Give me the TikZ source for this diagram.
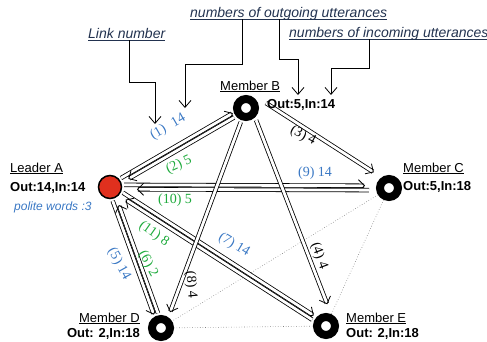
\documentclass[tikz,border=0pt]{standalone}
\usepackage{fontspec}
\setmainfont{Liberation Serif}
\setsansfont{Liberation Sans}
\usetikzlibrary{arrows.meta,calc}

\definecolor{leaderred}{HTML}{E0301E}
\definecolor{linkblue}{HTML}{3A78C4}
\definecolor{linkgreen}{HTML}{1EAA3C}
\definecolor{notenavy}{HTML}{22324F}

\tikzset{
  member/.style={circle, draw=black, line width=8pt, fill=white, minimum size=18pt, inner sep=0pt},
  leader/.style={circle, draw=black, line width=1.5pt, fill=leaderred, minimum size=23pt, inner sep=0pt},
  mname/.style={font=\sffamily\fontsize{13}{15}\selectfont, inner sep=0pt},
  mtally/.style={font=\sffamily\bfseries\fontsize{13}{15}\selectfont, inner sep=0pt},
  note/.style={font=\sffamily\itshape\fontsize{14}{16}\selectfont, text=notenavy, inner sep=0pt},
  callout/.style={line width=0.8pt, -{Straight Barb[length=7pt,width=12pt]}},
  wire/.style={line width=0.8pt, double=white, double distance=2.8pt},
  head/.style={line width=0.8pt, -{Straight Barb[length=6pt,width=12pt]}},
  num/.style={font=\fontsize{14}{16}\selectfont, inner sep=0pt},
  weak/.style={gray, dotted, line width=0.6pt},
}

\begin{document}
\begin{tikzpicture}[x=1pt,y=-1pt]
  \useasboundingbox (0,0) rectangle (487,341);

  % members
  \node[leader] (A) at (110,187) {};
  \node[member] (B) at (246,108) {};
  \node[member] (C) at (389,188) {};
  \node[member] (D) at (161,328) {};
  \node[member] (E) at (326,326) {};

  % links without utterances
  \draw[weak] (C) -- (D);
  \draw[weak] (C) -- (E);
  \draw[weak] (D) -- (E);

  % utterance links: from/to/offset at from/offset at to/gap at from/gap at to
  \foreach \src/\dst/\oa/\ob/\ga/\gb in {
      A/B/2.2/2.2/14/14, B/A/2.2/2.2/15/20,
      A/C/2.2/2.2/14/24, C/A/2.2/2.2/20/27,
      A/D/-2.2/-2.2/14/15, D/A/-2.2/-2.2/15/20,
      A/E/2.2/2.2/14/16, E/A/2.2/2.2/15/20,
      B/C/15/5/15/21, B/D/0/3/15/18, B/E/5/9/15/20} {
    \coordinate (p) at ($(\src)!\oa pt!90:(\dst)$);
    \coordinate (q) at ($(\dst)!\ob pt!-90:(\src)$);
    \draw[wire] ($(p)!\ga pt!(q)$) -- ($(q)!\gb pt+1pt!(p)$);
    \draw[head] ($(q)!\gb pt+1pt!(p)$) -- ($(q)!\gb pt!(p)$);
  }

  % link labels
  \node[num, text=linkblue, rotate=30] at (168,127) {(1)\hspace{8pt}14};
  \node[num, text=linkgreen, rotate=25] at (179,165) {(2) 5};
  \node[num, rotate=-28] at (303,136) {(3) 4};
  \node[num, rotate=-70] at (319,256) {(4) 4};
  \node[num, text=linkblue, rotate=-61] at (119,264) {(5) 14};
  \node[num, text=linkgreen, rotate=-61] at (148,264) {(6) 2};
  \node[num, text=linkblue, rotate=-31] at (234,245) {(7) 14};
  \node[num, rotate=-85] at (191,285) {(8) 4};
  \node[num, text=linkblue] at (315,173) {(9) 14};
  \node[num, text=linkgreen] at (175,200) {(10) 5};
  \node[num, text=linkgreen, rotate=-35] at (154,234) {(11) 8};

  % member names and counts
  \node[mname, anchor=base west] at (10,172) {\underline{Leader A}};
  \node[mtally, anchor=base west] at (10,191) {Out:14,In:14};
  \node[mname, anchor=base west, font=\sffamily\itshape\fontsize{12}{14}\selectfont, text=linkblue] at (14,210) {polite words :3};
  \node[mname, anchor=base west] at (220,90) {\underline{Member B}};
  \node[mtally, anchor=base west] at (267,108) {Out:5,In:14};
  \node[mname, anchor=base west] at (403,172) {\underline{Member C}};
  \node[mtally, anchor=base west] at (403,190) {Out:5,In:18};
  \node[mname, anchor=base east] at (140,322) {\underline{Member D}};
  \node[mtally, anchor=base east] at (140,337) {Out: 2,In:18};
  \node[mname, anchor=base west] at (346,322) {\underline{Member E}};
  \node[mtally, anchor=base west] at (346,337) {Out: 2,In:18};

  % explanations
  \node[note, anchor=base west] (lnk) at (88,38) {Link number};
  \node[note, anchor=base west] (out) at (190,17) {numbers of outgoing utterances};
  \node[note, anchor=base west] (inc) at (289,37) {numbers of incoming utterances};
  \foreach \n in {lnk,out,inc}
    \draw[notenavy, line width=0.7pt] ([yshift=-2pt]\n.base west) -- ([yshift=-2pt]\n.base east);

  \coordinate (tip1) at (155,124);
  \coordinate (tip2) at (185,108);
  \coordinate (tip3) at (298,95);
  \coordinate (tip4) at (331,95);
  \draw[callout] ([xshift=41pt,yshift=-2pt]lnk.base west) -- ++(0,42) -| (tip1);
  \draw[callout] ([xshift=52pt,yshift=-2pt]out.base west) -- ++(0,45) -| (tip2);
  \draw[callout] ([xshift=89pt,yshift=-2pt]out.base west) -- ++(0,40) -| (tip3);
  \draw[callout] ([xshift=80pt,yshift=-2pt]inc.base west) -- ++(0,29) -| (tip4);
\end{tikzpicture}
\end{document}
